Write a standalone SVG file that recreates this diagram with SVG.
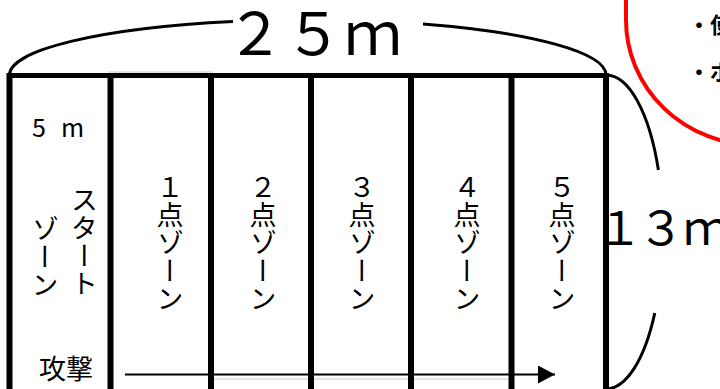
<svg xmlns="http://www.w3.org/2000/svg" width="720" height="389" viewBox="0 0 720 389">
<style>
.jp{font-family:"Noto Sans CJK JP","Noto Sans CJK SC",sans-serif;fill:#000}
.vt{font-family:"Noto Sans CJK JP","Noto Sans CJK SC",sans-serif;fill:#000;font-size:27px;writing-mode:vertical-rl;letter-spacing:1px}
.wall{stroke:#000;stroke-width:6;fill:none}
.dim{stroke:#000;stroke-width:3;fill:none}
.faint{stroke:#c8c8c8;stroke-width:1;fill:none}
</style>
<defs>
<marker id="arrow" markerWidth="17" markerHeight="18" refX="17" refY="9" orient="auto" markerUnits="userSpaceOnUse">
<polygon points="0,0 17,9 0,18" fill="#000"/>
</marker>
</defs>
<rect width="720" height="389" fill="#fff"/>
<g id="note-box">
<path d="M626 -10 L626 20 A130 125 0 0 0 756 145 L800 145" stroke="#ff0000" stroke-width="4" fill="none"/>
<text class="jp" x="688" y="33" font-size="22" font-weight="bold">・使</text>
<text class="jp" x="688" y="80" font-size="22" font-weight="bold">・ボ</text>
</g>
<g id="court">
<line class="faint" x1="108" y1="72" x2="213" y2="72"/>
<line class="faint" x1="213" y1="379" x2="512" y2="379"/>
<line x1="7" y1="75.5" x2="609" y2="75.5" stroke="#000" stroke-width="5"/>
<line class="wall" x1="9.5" y1="73" x2="9.5" y2="389" stroke-width="5"/>
<line class="wall" x1="110.5" y1="73" x2="110.5" y2="389"/>
<line class="wall" x1="211" y1="73" x2="211" y2="389"/>
<line class="wall" x1="311" y1="73" x2="311" y2="389"/>
<line class="wall" x1="411" y1="73" x2="411" y2="389"/>
<line class="wall" x1="511.5" y1="73" x2="511.5" y2="389"/>
<line class="wall" x1="606" y1="73" x2="606" y2="389" stroke-width="7"/>
</g>
<g id="start-zone">
<text class="jp" font-size="25"><tspan x="32" y="137">5</tspan><tspan x="61" y="137">m</tspan></text>
<text class="vt" x="84.5" y="186.5">スタート</text>
<text class="vt" x="45" y="215">ゾーン</text>
<text class="jp" x="39" y="379" font-size="27">攻撃</text>
</g>
<g id="zone-1"><text class="vt" x="170" y="173.5">１点ゾーン</text></g>
<g id="zone-2"><text class="vt" x="263" y="173.5">２点ゾーン</text></g>
<g id="zone-3"><text class="vt" x="362" y="173.5">３点ゾーン</text></g>
<g id="zone-4"><text class="vt" x="467" y="173.5">４点ゾーン</text></g>
<g id="zone-5"><text class="vt" x="562" y="173.5">５点ゾーン</text></g>
<g id="connectors">
<path class="dim" d="M9.5 75 A298 55.3 0 0 1 233 21.5"/>
<path class="dim" d="M423 24 A298 55.3 0 0 1 606 75"/>
<path class="dim" d="M606 75 A57 157 0 0 1 658.4 170"/>
<path class="dim" d="M654.8 313 A57 157 0 0 1 606 389"/>
<line x1="125" y1="374.5" x2="555" y2="374.5" stroke="#000" stroke-width="2" marker-end="url(#arrow)"/>
</g>
<g id="labels">
<text class="jp" font-size="58" text-anchor="middle"><tspan x="255" y="55">２</tspan><tspan x="313.5" y="55">５</tspan><tspan x="373" y="55">ｍ</tspan></text>
<text class="jp" font-size="46" text-anchor="middle"><tspan x="619.5" y="245">１</tspan><tspan x="661" y="245">３</tspan><tspan x="706" y="245">ｍ</tspan></text>
</g>
</svg>
